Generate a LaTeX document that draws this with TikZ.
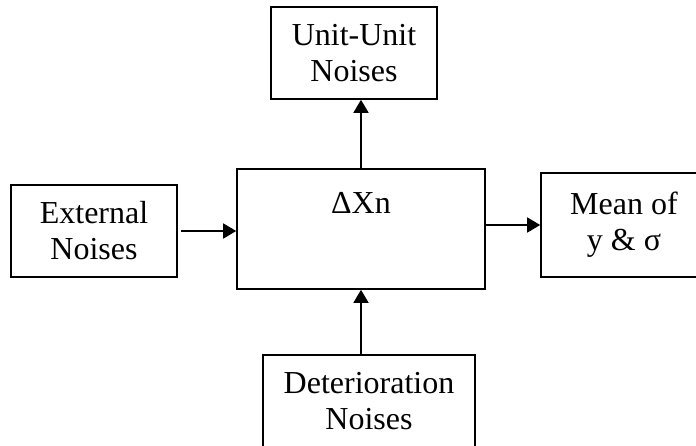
\documentclass[tikz,border=0pt]{standalone}
\usepackage{fontspec}
\setmainfont{Liberation Serif}
\usetikzlibrary{arrows.meta}
\begin{document}
\begin{tikzpicture}[x=1pt,y=-1pt,
  boxnode/.style={draw,line width=1.6pt,inner sep=0pt,align=center,
    font=\fontsize{32}{36}\selectfont},
  arr/.style={line width=1.6pt,-{Triangle[length=13pt,width=15pt]}},
  lbl/.style={inner sep=0pt,font=\fontsize{32}{36}\selectfont}]
\useasboundingbox (0,0) rectangle (696,445);
\node[boxnode,minimum width=166pt,minimum height=92pt] (uu) at (354,53) {Unit-Unit\\Noises};
\node[boxnode,minimum width=248pt,minimum height=120pt] (dx) at (361,229) {};
\node[lbl,anchor=base] (dxl) at (361,213) {ΔXn};
\node[boxnode,minimum width=166pt,minimum height=92pt] (ext) at (94,231) {External\\Noises};
\node[boxnode,minimum width=166pt,minimum height=104pt] (mean) at (624,225) {Mean of\\y \& σ};
\node[boxnode,minimum width=212pt,minimum height=92pt] (det) at (369,401) {Deterioration\\Noises};
\draw[arr,shorten <=3pt] (ext.east) -- (ext.east -| dx.west);
\draw[arr] (dx.east |- mean.west) -- (mean.west);
\draw[arr] (dx.north) -- (dx.north |- uu.south);
\draw[arr] (det.north -| dx.south) -- (dx.south);
\end{tikzpicture}
\end{document}
